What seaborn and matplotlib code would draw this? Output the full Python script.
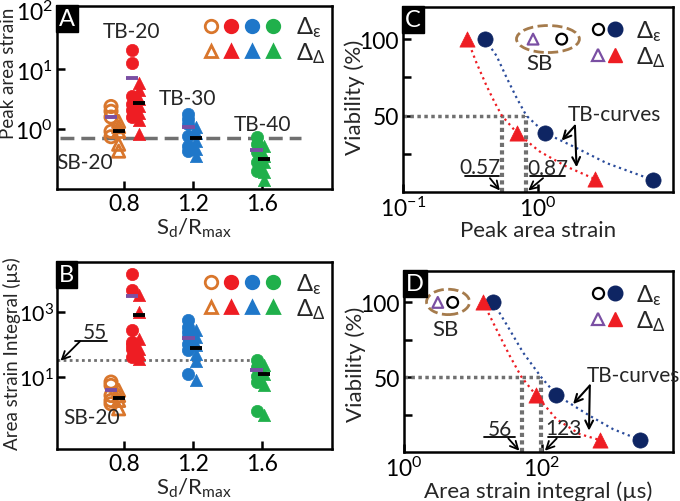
import matplotlib
matplotlib.use("Agg")
import numpy as np
import pandas as pd
import matplotlib.pyplot as plt
import seaborn as sns
from matplotlib.patches import Ellipse
from matplotlib.lines import Line2D
from matplotlib.legend_handler import HandlerTuple

# ---------------- data ----------------
groups = ["SB-20", "TB-20", "TB-30", "TB-40"]
group_x = [0.748, 0.868, 1.195, 1.588]
group_colors = ["#D9762C", "#EE1D23", "#1F77C9", "#20B04B"]
group_open = [True, False, False, False]
x_ticks = [0.8, 1.2, 1.6]

# panel A: peak area strain
peak_eps_sb20 = [2.4, 2.0, 1.6, 0.92, 0.75]
peak_dd_sb20 = [1.35, 1.1, 0.92, 0.56, 0.43]
peak_eps_tb20 = [21, 13, 3.6, 2.6, 2.1, 1.6]
peak_dd_tb20 = [6.0, 4.6, 3.2, 2.4, 1.9, 1.45, 0.82]
peak_eps_tb30 = [1.8, 1.47, 1.2, 0.77, 0.53, 0.44]
peak_dd_tb30 = [1.1, 0.88, 0.64, 0.46, 0.36]
peak_eps_tb40 = [0.73, 0.56, 0.41, 0.28, 0.2]
peak_dd_tb40 = [0.53, 0.36, 0.28, 0.19, 0.14]
peak_med_eps = [1.58, 7.3, 1.1, 0.45]
peak_med_dd = [0.95, 2.7, 0.7, 0.32]
peak_threshold = 0.7

# panel B: area strain integral (us)
integ_eps_sb20 = [7, 5.5, 2.7, 1.9, 1.5]
integ_dd_sb20 = [3.9, 2.7, 1.9, 1.05]
integ_eps_tb20 = [15000, 4600, 270, 120, 94, 74, 41]
integ_dd_tb20 = [3240, 1000, 150, 74, 52, 36]
integ_eps_tb30 = [550, 345, 240, 170, 105, 66, 12.6]
integ_dd_tb30 = [270, 170, 100, 52, 32, 7.9]
integ_eps_tb40 = [33, 20, 11, 7, 0.93]
integ_dd_tb40 = [23, 12.6, 5.5, 0.66]
integ_med_eps = [3.9, 3200, 162, 17]
integ_med_dd = [2.3, 790, 78, 12]
integ_threshold = 33

# panel C: viability vs peak area strain
c_eps_x = [0.405, 1.13, 7.1]
c_eps_y = [100, 38.6, 7.9]
c_dd_x = [0.30, 0.70, 2.64]
c_dd_y = [100, 38.6, 8.5]
c_eps_curve_x = [0.405, 0.494, 0.586, 0.695, 0.82, 1.13, 1.83, 3.23, 7.1]
c_eps_curve_y = [100, 89, 74.8, 61.6, 50, 38.6, 29.8, 18.9, 7.9]
c_dd_curve_x = [0.30, 0.35, 0.417, 0.48, 0.54, 0.70, 1.03, 1.63, 2.64]
c_dd_curve_y = [100, 84.6, 69.3, 58.3, 50, 38.6, 26.5, 16.6, 8.5]
c_thresh = [0.54, 0.82]
c_thresh_labels = ["0.57", "0.87"]
c_sb_x = [0.92, 1.5]

# panel D: viability vs area strain integral
d_eps_x = [19.7, 163, 2630]
d_eps_y = [100, 38.2, 8.2]
d_dd_x = [14.1, 81.7, 694]
d_dd_y = [100, 38.2, 8.0]
d_eps_curve_x = [19.7, 30.8, 53.7, 99, 163, 497, 1080, 2630]
d_eps_curve_y = [100, 85.3, 66.4, 49.8, 38.2, 24.2, 15.3, 8.2]
d_dd_curve_x = [14.1, 22, 34.4, 51, 81.7, 163, 355, 694]
d_dd_curve_y = [100, 82, 64.2, 50, 38.2, 22, 12, 8.0]
d_thresh = [51, 99]
d_thresh_labels = ["56", "123"]
d_sb_x = [3.1, 5.1]

viab_ticks = [50, 100]
viab_minor = [25, 75]

NAVY = "#0E2563"
RED = "#EE1D23"
PURPLE = "#7A4FA3"
GRAY = "#707070"
FS = 15
TICK_FS = 16.5
LABEL_FS = 16
EPS = "Δ$_\\mathrm{ε}$"
DD = "Δ$_\\mathrm{Δ}$"
OFF = 0.022

sns.set_theme(style="ticks")
plt.rcParams["font.family"] = ["Lato", "DejaVu Sans"]
plt.rcParams["mathtext.fontset"] = "custom"
plt.rcParams["mathtext.rm"] = "Lato"
plt.rcParams["mathtext.it"] = "Lato:italic"
plt.rcParams["mathtext.fallback"] = "stixsans"


def long_frame(eps_lists, dd_lists):
    rows = []
    for g, x0, eps, dd in zip(groups, group_x, eps_lists, dd_lists):
        rows += [(g, "eps", x0 - OFF, v) for v in eps]
        rows += [(g, "dd", x0 + OFF, v) for v in dd]
    return pd.DataFrame(rows, columns=["group", "kind", "x", "value"])


def style_axes(ax):
    for s in ax.spines.values():
        s.set_visible(True)
        s.set_linewidth(1.8)
        s.set_color("black")
    ax.tick_params(which="both", direction="in", length=6, width=1.8,
                   labelsize=TICK_FS, colors="black", pad=3)


def panel_label(ax, letter):
    ax.text(0.008, 0.99, letter, transform=ax.transAxes, ha="left", va="top",
            color="white", fontsize=17,
            bbox=dict(boxstyle="square,pad=0.12", fc="black", ec="black"))


def add_legend(ax, handles, length, pad, textpad, anchor):
    ax.legend(handles, [EPS, DD],
              handler_map={tuple: HandlerTuple(ndivide=None, pad=pad)},
              loc="upper right", bbox_to_anchor=anchor, frameon=False,
              fontsize=FS + 2, handlelength=length, handletextpad=textpad,
              labelspacing=0.05, borderpad=0.1, borderaxespad=0.0)


def strip_panel(ax, df, med_eps, med_dd):
    ax.set_yscale("log")
    for g, col, is_open in zip(groups, group_colors, group_open):
        for kind, marker in (("eps", "o"), ("dd", "^")):
            sub = df[(df["group"] == g) & (df["kind"] == kind)]
            if is_open:
                kw = dict(color=col, facecolor="none", edgecolor=col, linewidth=2)
            else:
                kw = dict(color=col, edgecolor=col, linewidth=0.5)
            sns.scatterplot(data=sub, x="x", y="value", marker=marker, s=78,
                            ax=ax, zorder=3, **kw)
    gx = np.array(group_x)
    ax.hlines(med_eps, gx - OFF - 0.035, gx - OFF + 0.035, colors=PURPLE,
              lw=2.8, zorder=4)
    ax.hlines(med_dd, gx + OFF - 0.035, gx + OFF + 0.035, colors="black",
              lw=2.8, zorder=4)
    ax.set_xlim(0.414, 2.0)
    ax.set_xticks(x_ticks)
    ax.set_xticklabels([f"{t:.1f}" for t in x_ticks])
    ax.minorticks_off()
    ax.set_xlabel("S$_\\mathrm{d}$/R$_\\mathrm{max}$", fontsize=LABEL_FS,
                  labelpad=1)
    style_axes(ax)
    h_eps = tuple(Line2D([], [], ls="none", marker="o", ms=9, mew=2,
                         mfc="none" if o else c, mec=c)
                  for c, o in zip(group_colors, group_open))
    h_dd = tuple(Line2D([], [], ls="none", marker="^", ms=9, mew=2,
                        mfc="none" if o else c, mec=c)
                 for c, o in zip(group_colors, group_open))
    add_legend(ax, [h_eps, h_dd], 3.5, 0.0, 0.55, (0.985, 0.965))


def viability_panel(ax, ex, ey, dx, dy, ecx, ecy, dcx, dcy, thresh, sb_x):
    x_left = ax.get_xlim()[0]
    sns.lineplot(x=ecx, y=ecy, sort=False, estimator=None, color="#2B4C9B",
                 ls=":", lw=1.6, ax=ax)
    sns.lineplot(x=dcx, y=dcy, sort=False, estimator=None, color=RED,
                 ls=":", lw=1.6, ax=ax)
    sns.scatterplot(x=ex, y=ey, marker="o", s=120, color=NAVY, edgecolor=NAVY,
                    linewidth=0.5, ax=ax, zorder=3)
    sns.scatterplot(x=dx, y=dy, marker="^", s=120, color=RED, edgecolor=RED,
                    linewidth=0.5, ax=ax, zorder=3)
    # SB reference points
    sns.scatterplot(x=[sb_x[0]], y=[100], marker="^", s=60, color=PURPLE,
                    facecolor="none", edgecolor=PURPLE, linewidth=1.6, ax=ax)
    sns.scatterplot(x=[sb_x[1]], y=[100], marker="o", s=60, color="black",
                    facecolor="none", edgecolor="black", linewidth=1.6, ax=ax)
    # 50 % threshold guides
    ax.hlines(50, x_left, thresh[1], linestyles=[(0, (1, 1))], colors=GRAY,
              lw=2.5, zorder=1)
    ax.vlines(thresh, 0, 50, linestyles=[(0, (1, 0.8))], colors=GRAY, lw=3,
              zorder=1)
    ax.set_ylim(0, 121)
    ax.set_yticks(viab_ticks)
    ax.set_yticklabels([str(t) for t in viab_ticks])
    ax.set_ylabel("Viability (%)", fontsize=LABEL_FS)
    style_axes(ax)
    h_eps = (Line2D([], [], ls="none", marker="o", ms=8, mfc="none", mec="black", mew=1.6),
             Line2D([], [], ls="none", marker="o", ms=10.5, mfc=NAVY, mec=NAVY))
    h_dd = (Line2D([], [], ls="none", marker="^", ms=8, mfc="none", mec=PURPLE, mew=1.6),
            Line2D([], [], ls="none", marker="^", ms=10.5, mfc=RED, mec=RED))
    add_legend(ax, [h_eps, h_dd], 1.5, 0.0, 0.5, (0.98, 0.95))


def arrow(ax, start, end, lw=1.5):
    ax.annotate("", xy=end, xytext=start, xycoords="axes fraction",
                textcoords="axes fraction",
                arrowprops=dict(arrowstyle="->", lw=lw, color="black",
                                shrinkA=0, shrinkB=0, mutation_scale=14))


def underlined(ax, text, center, line_x, line_y, a_start, a_end):
    ax.text(center[0], center[1], text, transform=ax.transAxes, ha="center",
            va="center", fontsize=FS)
    ax.plot(line_x, [line_y, line_y], transform=ax.transAxes, color="black",
            lw=1.3)
    arrow(ax, a_start, a_end, lw=1.3)


fig = plt.figure(figsize=(6.8, 5.02), dpi=100)
axA = fig.add_axes([0.0838, 0.6215, 0.404, 0.3645])
axB = fig.add_axes([0.0838, 0.1036, 0.404, 0.3725])
axC = fig.add_axes([0.5926, 0.6155, 0.397, 0.3685])
axD = fig.add_axes([0.594, 0.0976, 0.3956, 0.3606])

# ---- A ----
dfA = long_frame([peak_eps_sb20, peak_eps_tb20, peak_eps_tb30, peak_eps_tb40],
                 [peak_dd_sb20, peak_dd_tb20, peak_dd_tb30, peak_dd_tb40])
strip_panel(axA, dfA, peak_med_eps, peak_med_dd)
axA.axhline(peak_threshold, xmin=0.01, xmax=0.89, color=GRAY, lw=2.5,
            ls=(0, (4, 2)), zorder=2)
axA.set_ylim(0.1, 115)
axA.set_yticks([1, 10, 100])
axA.minorticks_off()
axA.set_ylabel("Peak area strain", fontsize=13.5)
axA.yaxis.set_label_coords(-0.145, 0.64)
for txt, pos in zip(groups, [(0.102, 0.148), (0.273, 0.863), (0.476, 0.495), (0.749, 0.357)]):
    axA.text(pos[0], pos[1], txt, transform=axA.transAxes, ha="center",
             va="center", fontsize=FS)
panel_label(axA, "A")

# ---- B ----
dfB = long_frame([integ_eps_sb20, integ_eps_tb20, integ_eps_tb30, integ_eps_tb40],
                 [integ_dd_sb20, integ_dd_tb20, integ_dd_tb30, integ_dd_tb40])
strip_panel(axB, dfB, integ_med_eps, integ_med_dd)
axB.axhline(integ_threshold, xmin=0.0, xmax=0.713, color=GRAY, lw=2,
            ls=(0, (1, 1.2)), zorder=2)
axB.set_ylim(0.061, 34600)
axB.set_yticks([10, 1000])
axB.minorticks_off()
axB.tick_params(axis="y", pad=2, labelsize=15.5)
axB.set_ylabel("Area strain Integral (µs)", fontsize=13.5)
axB.yaxis.set_label_coords(-0.13, 0.513)
axB.text(0.126, 0.17, "SB-20", transform=axB.transAxes, ha="center",
         va="center", fontsize=FS)
underlined(axB, "55", (0.138, 0.624), [0.065, 0.183], 0.576,
           (0.084, 0.576), (0.013, 0.472))
panel_label(axB, "B")

# ---- C ----
axC.set_xscale("log")
axC.set_xlim(0.1, 10)
viability_panel(axC, c_eps_x, c_eps_y, c_dd_x, c_dd_y, c_eps_curve_x,
                c_eps_curve_y, c_dd_curve_x, c_dd_curve_y, c_thresh, c_sb_x)
axC.set_xlim(0.1, 10)
axC.set_xticks([0.1, 1])
axC.minorticks_off()
axC.set_yticks(viab_minor, minor=True)
axC.set_xlabel("Peak area strain", fontsize=LABEL_FS, labelpad=0)
axC.yaxis.set_label_coords(-0.14, 0.516)
axC.add_patch(Ellipse((0.537, 0.827), 0.233, 0.146, transform=axC.transAxes,
                      fill=False, ls="--", lw=2, edgecolor="#A57B4C"))
axC.text(0.507, 0.70, "SB", transform=axC.transAxes, ha="center", va="center",
         fontsize=FS + 1)
axC.text(0.785, 0.42, "TB-curves", transform=axC.transAxes, ha="center",
         va="center", fontsize=FS)
arrow(axC, (0.637, 0.358), (0.588, 0.278))
arrow(axC, (0.637, 0.358), (0.643, 0.134))
underlined(axC, c_thresh_labels[0], (0.285, 0.135), [0.23, 0.354], 0.088,
           (0.322, 0.075), (0.359, 0.008))
underlined(axC, c_thresh_labels[1], (0.538, 0.13), [0.47, 0.60], 0.086,
           (0.519, 0.075), (0.464, 0.008))
panel_label(axC, "C")

# ---- D ----
axD.set_xscale("log")
axD.set_xlim(1, 8000)
viability_panel(axD, d_eps_x, d_eps_y, d_dd_x, d_dd_y, d_eps_curve_x,
                d_eps_curve_y, d_dd_curve_x, d_dd_curve_y, d_thresh, d_sb_x)
axD.set_xlim(1, 8000)
axD.set_xticks([1, 100])
axD.minorticks_off()
axD.set_yticks(viab_minor, minor=True)
axD.set_xlabel("Area strain integral (µs)", fontsize=LABEL_FS, labelpad=0)
axD.yaxis.set_label_coords(-0.14, 0.49)
axD.add_patch(Ellipse((0.164, 0.829), 0.16, 0.14, transform=axD.transAxes,
                      fill=False, ls="--", lw=2, edgecolor="#A57B4C"))
axD.text(0.156, 0.68, "SB", transform=axD.transAxes, ha="center", va="center",
         fontsize=FS + 1)
axD.text(0.853, 0.427, "TB-curves", transform=axD.transAxes, ha="center",
         va="center", fontsize=FS)
arrow(axD, (0.691, 0.367), (0.629, 0.265))
arrow(axD, (0.691, 0.367), (0.688, 0.118))
underlined(axD, d_thresh_labels[0], (0.357, 0.127), [0.297, 0.413], 0.081,
           (0.388, 0.075), (0.429, 0.007))
underlined(axD, d_thresh_labels[1], (0.592, 0.13), [0.536, 0.654], 0.081,
           (0.568, 0.075), (0.524, 0.007))
panel_label(axD, "D")

fig.savefig("out.png", dpi=100)
